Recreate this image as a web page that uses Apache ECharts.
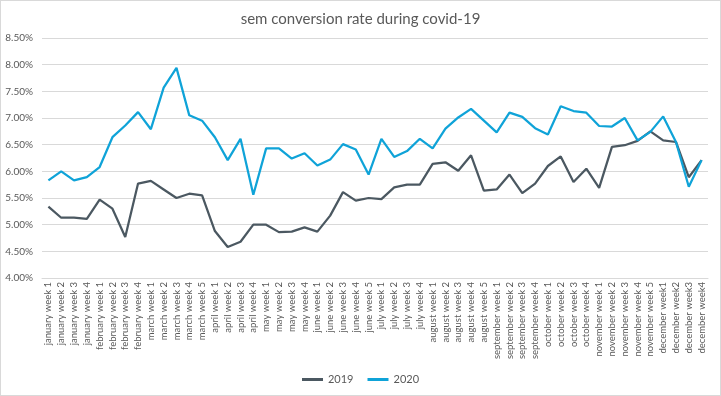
<!DOCTYPE html>
<html>
<head>
<meta charset="utf-8">
<script src="https://cdn.jsdelivr.net/npm/echarts@6/dist/echarts.min.js"></script>
<style>
html,body{margin:0;padding:0;background:#fff;}
#c{width:719px;height:394px;border:1px solid #d9d9d9;}
</style>
</head>
<body>
<div id="c"></div>
<script>
var categories = [
 'january week 1','january week 2','january week 3','january week 4',
 'february week 1','february week 2','february week 3','february week 4',
 'march week 1','march week 2','march week 3','march week 4','march week 5',
 'april week 1','april week 2','april week 3','april week 4',
 'may week 1','may week 2','may week 3','may week 4',
 'june week 1','june week 2','june week 3','june week 4','june week 5',
 'july week 1','july week 2','july week 3','july week 4',
 'august week 1','august week 2','august week 3','august week 4','august week 5',
 'september week 1','september week 2','september week 3','september week 4',
 'october week 1','october week 2','october week 3','october week 4',
 'november week 1','november week 2','november week 3','november week 4','november week 5',
 'december week1','december week2','december week3','december week4'
];
var values2019 = [5.34,5.13,5.13,5.11,5.47,5.30,4.77,5.77,5.82,5.66,
 5.50,5.58,5.55,4.88,4.58,4.68,5.00,5.00,4.86,4.87,
 4.95,4.87,5.17,5.61,5.45,5.50,5.48,5.70,5.75,5.75,
 6.14,6.17,6.01,6.30,5.64,5.66,5.94,5.59,5.77,6.10,
 6.28,5.80,6.05,5.69,6.46,6.49,6.57,6.75,6.58,6.55,
 5.89,6.21];
var values2020 = [5.83,6.00,5.83,5.89,6.08,6.64,6.86,7.11,6.79,7.57,
 7.94,7.05,6.95,6.64,6.21,6.61,5.56,6.43,6.43,6.24,
 6.34,6.11,6.22,6.51,6.41,5.94,6.61,6.27,6.38,6.61,
 6.43,6.80,7.01,7.17,6.95,6.73,7.10,7.02,6.81,6.69,
 7.22,7.13,7.10,6.85,6.84,7.00,6.58,6.74,7.03,6.55,
 5.71,6.21];
var seriesNames = ['2019','2020'];
var yMin = 4, yMax = 8.5, yStep = 0.5;

var chart = echarts.init(document.getElementById('c'), null, {renderer:'canvas'});
var font = 'Lato, "Open Sans", sans-serif';
chart.setOption({
  animation:false,
  color:['#4B5861','#0FA3D8'],
  title:{
    text:'sem conversion rate during covid-19',
    left:'center', top:6,
    textStyle:{fontFamily:font,fontSize:15,fontWeight:'normal',color:'#595959'}
  },
  legend:{
    data:seriesNames,
    bottom:5, left:'center',
    itemWidth:21, itemHeight:3, itemGap:14,
    icon:'rect',
    textStyle:{fontFamily:font,fontSize:11,color:'#595959'}
  },
  grid:{left:41,right:12,top:37,bottom:117,containLabel:false},
  xAxis:{
    type:'category',
    data:categories,
    boundaryGap:true,
    axisLine:{show:true,lineStyle:{color:'#d9d9d9'}},
    axisTick:{show:false},
    axisLabel:{interval:0,rotate:90,fontFamily:font,fontSize:9.5,color:'#595959',margin:4}
  },
  yAxis:{
    type:'value',
    min:yMin,max:yMax,interval:yStep,
    axisLine:{show:false},
    axisTick:{show:false},
    splitLine:{lineStyle:{color:'#d9d9d9'}},
    axisLabel:{fontFamily:font,fontSize:10,color:'#595959',margin:9,
      formatter:function(v){return v.toFixed(2)+'%';}}
  },
  series:[
    {name:seriesNames[0],type:'line',data:values2019,showSymbol:false,symbol:'none',
     lineStyle:{width:2.25,color:'#4B5861'}},
    {name:seriesNames[1],type:'line',data:values2020,showSymbol:false,symbol:'none',
     lineStyle:{width:2.25,color:'#0FA3D8'}}
  ]
});
</script>
</body>
</html>
